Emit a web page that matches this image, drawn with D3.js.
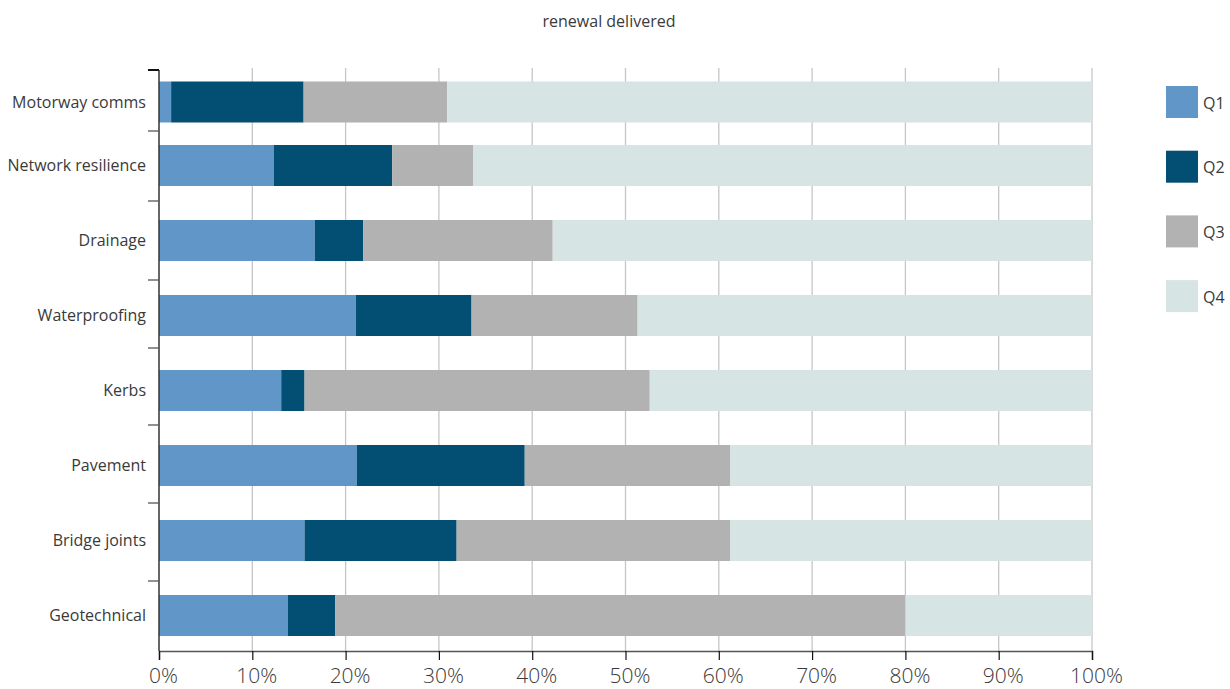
<!DOCTYPE html>
<html><head><meta charset="utf-8">
<script src="https://cdn.jsdelivr.net/npm/d3@7"></script>
<style>
body{margin:0;background:#fff;}
text{font-family:"Open Sans","Noto Sans",sans-serif;fill:#3a3a3a;}
</style></head>
<body>
<svg id="c" width="1230" height="689"></svg>
<script>
const categories = ["Motorway comms","Network resilience","Drainage","Waterproofing","Kerbs","Pavement","Bridge joints","Geotechnical"];
const seriesNames = ["Q1","Q2","Q3","Q4"];
const q1 = [1.3, 12.3, 16.7, 21.1, 13.1, 21.2, 15.6, 13.8];
const q2 = [14.2, 12.7, 5.2, 12.4, 2.5, 18.0, 16.3, 5.1];
const q3 = [15.4, 8.7, 20.3, 17.8, 37.0, 22.0, 29.3, 61.1];
const q4 = [69.1, 66.3, 57.8, 48.7, 47.4, 38.8, 38.8, 20.0];
const xTicks = [0,10,20,30,40,50,60,70,80,90,100];
const colors = ["#6096c8","#024f73","#b2b2b2","#d7e4e4"];
const title = "renewal delivered";

const svg = d3.select("#c");
const x = d3.scaleLinear().domain([0,100]).range([159,1092]);
// bar centres: first row sits closer to the second than the regular 75px step
const yc = d3.scaleLinear().domain([0,1,7]).range([102,165.5,615.5]);
const barH = 41;
// category boundary ticks on the left axis (uneven in the original)
const yTick = d3.scaleLinear().domain([0,1,2,3,4,5,6,7,8]).range([70,131,201,280,348,425,503,581,651]);

const rows = categories.map((c,i)=>({cat:c, Q1:q1[i], Q2:q2[i], Q3:q3[i], Q4:q4[i]}));
const stack = d3.stack().keys(seriesNames)(rows);

// grid
svg.append("g").selectAll("line").data(xTicks.slice(1)).join("line")
  .attr("x1",d=>x(d)).attr("x2",d=>x(d)).attr("y1",68).attr("y2",651)
  .attr("stroke","#c6c6c6").attr("stroke-width",1.3);

// bars
svg.append("g").selectAll("g").data(stack).join("g")
  .attr("fill",(d,i)=>colors[i])
  .selectAll("rect").data(d=>d).join("rect")
  .attr("x",d=>x(d[0])).attr("width",d=>x(d[1])-x(d[0]))
  .attr("y",(d,i)=>yc(i)-barH/2).attr("height",barH);

// x axis
const xa = svg.append("g").attr("transform","translate(0,651)")
  .call(d3.axisBottom(x).tickValues(xTicks).tickFormat(d=>d+"%").tickSize(9).tickPadding(8));
xa.select(".domain").attr("stroke","#555").attr("stroke-width",1.5);
xa.selectAll(".tick line").attr("stroke","#111").attr("stroke-width",1.2);
xa.selectAll(".tick text").attr("font-size",21).attr("font-family","Open Sans, sans-serif").attr("font-weight",300).attr("fill","#444").attr("dx",4);

// y axis line + ticks
svg.append("line").attr("x1",159).attr("x2",159).attr("y1",70).attr("y2",651).attr("stroke","#333").attr("stroke-width",1.5);
svg.append("g").selectAll("line").data(d3.range(8)).join("line")
  .attr("x1",148).attr("x2",159).attr("y1",d=>yTick(d)).attr("y2",d=>yTick(d))
  .attr("stroke",(d,i)=>i===0?"#111":"#555").attr("stroke-width",(d,i)=>i===0?2:1.3);

// category labels
svg.append("g").selectAll("text").data(categories).join("text")
  .attr("x",146).attr("y",(d,i)=>yc(i)).attr("dy","0.35em")
  .attr("text-anchor","end").attr("font-size",16).attr("fill","#444").text(d=>d);

// title
svg.append("text").attr("x",609).attr("y",21).attr("dy","0.35em").attr("text-anchor","middle")
  .attr("font-size",16).attr("fill","#444").text(title);

// legend
const lg = svg.append("g").selectAll("g").data(seriesNames).join("g")
  .attr("transform",(d,i)=>`translate(1166,${86+i*64.7})`);
lg.append("rect").attr("width",32).attr("height",32).attr("fill",(d,i)=>colors[i]);
lg.append("text").attr("x",37).attr("y",17).attr("dy","0.35em").attr("font-size",16).attr("fill","#444").text(d=>d);
</script>
</body></html>
